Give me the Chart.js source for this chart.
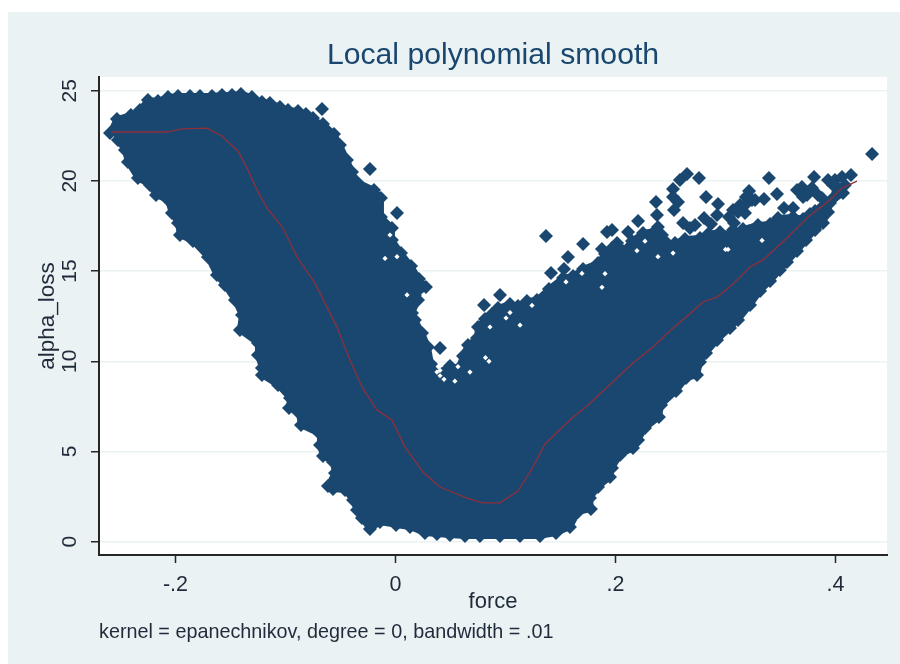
<!DOCTYPE html>
<html><head><meta charset="utf-8">
<style>html,body{margin:0;padding:0;background:#fff}canvas{display:block;filter:blur(.45px)}</style>
<script src="https://cdn.jsdelivr.net/npm/chart.js@4/dist/chart.umd.min.js"></script>
</head><body><canvas id="c" width="900" height="664"></canvas>
<script>
const xTickValues=[-0.2,0,0.2,0.4];
const yTickValues=[0,5,10,15,20,25];
const titleText="Local polynomial smooth";
const noteText="kernel = epanechnikov, degree = 0, bandwidth = .01";
const smoothForce=[-0.2586,-0.2077,-0.1941,-0.1714,-0.1577,-0.1523,-0.1432,-0.1341,-0.1259,-0.1168,-0.1023,-0.0895,-0.0732,-0.0532,-0.0414,-0.0305,-0.0168,-0.0032,0.0086,0.025,0.0405,0.0495,0.065,0.0795,0.095,0.1114,0.125,0.1359,0.1605,0.1741,0.1877,0.2159,0.2341,0.2514,0.2695,0.2795,0.2923,0.3059,0.3223,0.3341,0.3568,0.375,0.395,0.4059,0.4195];
const smoothLoss=[22.71,22.71,22.88,22.93,22.49,22.16,21.66,20.6,19.5,18.5,17.39,15.78,14.34,11.9,10.07,8.58,7.3,6.75,5.25,3.86,3.03,2.81,2.42,2.15,2.15,2.81,4.14,5.42,6.86,7.52,8.3,9.91,10.79,11.79,12.73,13.29,13.56,14.23,15.23,15.62,16.89,18,18.94,19.61,19.99];
const cloudForce=[-0.2595,-0.2532,-0.2405,-0.2323,-0.225,-0.2159,-0.2068,-0.1977,-0.1868,-0.1777,-0.1668,-0.1577,-0.1486,-0.1405,-0.1305,-0.1214,-0.1141,-0.105,-0.0977,-0.0886,-0.0814,-0.0759,-0.0659,-0.0559,-0.0505,-0.0441,-0.0395,-0.035,-0.0195,-0.0132,-0.0132,-0.0032,-0.0032,0.005,0.0141,0.0214,0.0277,0.0177,0.0205,0.015,0.0177,0.0241,0.0295,0.0323,0.0368,0.0495,0.0577,0.0614,0.0659,0.0741,0.075,0.0814,0.0877,0.0932,0.1041,0.1114,0.1195,0.1286,0.1395,0.1523,0.1614,0.1705,0.1841,0.1905,0.1968,0.2014,0.2068,0.215,0.225,0.2359,0.2386,0.2468,0.2541,0.2632,0.2768,0.2841,0.295,0.3068,0.3159,0.3295,0.3405,0.3477,0.3614,0.3705,0.3768,0.3814,0.3886,0.3977,0.4023,0.4068,0.395,0.3932,0.3886,0.3814,0.3732,0.365,0.3559,0.3495,0.3405,0.3314,0.3223,0.3114,0.3041,0.2923,0.2823,0.2768,0.2741,0.2641,0.255,0.2414,0.2395,0.2268,0.2205,0.2159,0.2041,0.1968,0.195,0.1841,0.1768,0.1777,0.1659,0.1586,0.1459,0.1314,0.1132,0.095,0.0768,0.0632,0.0495,0.0377,0.0268,0.0132,0.0005,-0.0141,-0.0232,-0.0305,-0.035,-0.0386,-0.0459,-0.0568,-0.0614,-0.055,-0.0568,-0.0659,-0.0686,-0.0686,-0.0859,-0.0877,-0.0968,-0.0959,-0.1068,-0.1214,-0.1214,-0.125,-0.125,-0.1414,-0.1395,-0.1459,-0.155,-0.1623,-0.1705,-0.1841,-0.1959,-0.1977,-0.2032,-0.2068,-0.2177,-0.2232,-0.2341,-0.2432,-0.2459,-0.2523];
const cloudLoss=[22.66,23.43,23.65,23.93,24.48,24.43,24.65,24.71,24.71,24.71,24.71,24.76,24.76,24.82,24.65,24.37,24.32,24.1,23.93,23.87,23.71,23.38,23.15,22.6,21.99,21.16,20.49,19.94,19.5,19.05,18,17.39,16.72,16,15.28,14.56,14.12,13.68,13.4,12.68,12.29,11.57,10.79,9.85,9.3,9.74,9.63,10.29,10.9,11.29,11.9,12.34,12.62,12.95,13.18,13.07,13.34,13.4,14.01,14.62,14.73,15.12,15.45,15.95,16.28,16.56,16.11,16.67,17.11,17.22,16.83,16.56,16.56,16.78,16.83,17.06,17.17,16.95,17.33,17.56,17.61,17.94,18,17.89,18.17,18.33,18.61,19.05,19.38,19.33,18.77,18.28,17.67,17.28,16.72,16.11,15.5,15.06,14.45,13.9,13.12,12.29,11.85,11.18,10.46,9.96,9.24,9.07,8.35,7.58,6.91,6.3,5.64,5.19,4.81,4.09,3.59,3.03,2.42,1.81,1.65,0.81,0.48,0.32,0.32,0.32,0.32,0.32,0.37,0.43,0.48,0.81,0.93,1.09,0.7,1.31,1.76,2.31,2.87,2.92,3.09,3.81,4.42,4.75,5.36,5.97,6.47,7.13,7.41,7.97,8.69,9.24,9.63,10.35,11.01,11.73,12.57,13.4,14.23,14.78,15.78,16.67,17,17.67,18.22,18.94,19.22,19.77,20.16,21.05,21.71,22.27];
const strayForce=[-0.0668,-0.075,-0.0232,0.0014,0.0405,0.0805,0.095,0.1368,0.1414,0.1532,0.1568,0.1705,0.1877,0.1923,0.1968,0.2114,0.2205,0.2368,0.2377,0.2386,0.2423,0.2523,0.2523,0.2568,0.2532,0.2586,0.265,0.2759,0.2823,0.2805,0.2614,0.2723,0.2932,0.2923,0.3395,0.3468,0.3214,0.3077,0.3068,0.3132,0.3205,0.3268,0.335,0.3532,0.3614,0.3695,0.3805,0.3741,0.3841,0.3877,0.3995,0.4059,0.4141,0.3977,0.4332,0.3177,0.3114,0.3177,0.3241,0.3186,0.3032,0.365,0.3705,0.3786,0.4023,0.4086,0.3932,0.2677,0.2868,0.3068];
const strayLoss=[23.99,23.49,20.66,18.22,10.74,13.12,13.68,16.95,14.89,15.12,15.78,16.5,16.22,17.17,17.28,17.17,17.78,18.83,18.11,17.44,17,19.55,19.11,18.83,18.39,20.05,20.38,20.16,19.11,17.94,17.67,17.56,18.72,18.11,20.16,19.27,19.44,17.67,18.39,18.66,19.05,18.94,19,18.5,18.5,19.66,20.22,19.22,19.22,19.05,20.05,20.22,20.33,19.77,21.49,18.22,18.28,18.66,18.94,19.11,18,19.5,19.11,19.61,19.61,19.77,20.05,17.39,17.61,17.28];
const gapForce=[0.0105,0.0405,0.0405,0.0441,0.0818,0.085,0.0859,0.1041,0.1005,0.1132,0.1241,0.0568,0.0677,0.054,0.2268,0.2195,0.2523,0.2386,0.1905,0.1695,0.1877,0.155,0.3,0.3023,0.3332,-0.0095,0.0014,-0.005,0.0377];
const gapLoss=[13.68,9.5,9.2,9.0,10.2,10.0,11.9,12.7,12.4,12.0,13.1,9.7,9.4,8.9,16.66,16.13,16,15.8,14.86,14.87,14.1,14.4,16.2,16.2,16.7,15.7,15.8,17.0,9.4];
const toXY=(xs,ys)=>xs.map((x,i)=>({x,y:ys[i]}));
const navy="#1a476f",ink="#1f2b3a",axisInk="#262626",panel="#eaf2f3";
const backdrop={id:"backdrop",beforeDraw(c){const g=c.ctx,a=c.chartArea;g.save();g.fillStyle="#fff";g.fillRect(0,0,c.width,c.height);g.fillStyle=panel;g.fillRect(8,12,892,652);g.fillStyle="#fff";g.fillRect(a.left,a.top,a.right-a.left,a.bottom-a.top);g.restore();}};
const fontFam='"Liberation Sans",Arial,sans-serif';
new Chart(document.getElementById("c"),{type:"scatter",plugins:[backdrop],
data:{datasets:[
 {label:"smooth",data:toXY(smoothForce,smoothLoss),showLine:true,borderColor:"#8f2f3c",borderWidth:1.3,pointRadius:0,tension:0,fill:false},
 {label:"gaps",data:toXY(gapForce,gapLoss),showLine:false,pointStyle:"rectRot",pointRadius:2.6,pointBorderWidth:0,pointBackgroundColor:"#fff"},
 {label:"stray",data:toXY(strayForce,strayLoss),showLine:false,pointStyle:"rectRot",pointRadius:7,pointBorderWidth:0,pointBackgroundColor:navy},
 {label:"cloud",data:toXY(cloudForce,cloudLoss),showLine:true,fill:"shape",backgroundColor:navy,borderColor:navy,borderWidth:6,borderJoinStyle:"round",tension:0,pointStyle:"rectRot",pointRadius:7,pointBorderWidth:0,pointBackgroundColor:navy}
]},
options:{responsive:false,animation:false,devicePixelRatio:1,
 layout:{padding:{left:0,right:13,top:0,bottom:0}},
 plugins:{legend:{display:false},tooltip:{enabled:false},
  title:{display:true,text:titleText,color:navy,fullSize:false,font:{family:fontFam,size:30.2,weight:"normal",lineHeight:1.2},padding:{top:37.2,bottom:3.56}},
  subtitle:{display:true,text:noteText,position:"bottom",align:"start",fullSize:false,color:ink,font:{family:fontFam,size:19.8,weight:"normal",lineHeight:1.2},padding:{top:0,bottom:19.5}}},
 scales:{
  x:{type:"linear",min:-0.2695,max:0.4468,afterFit(s){s.height=65.7;},afterBuildTicks(s){s.ticks=xTickValues.map(value=>({value}));},
   grid:{drawOnChartArea:false,tickLength:8,tickColor:axisInk,tickWidth:1.5},border:{color:axisInk,width:2},
   ticks:{color:ink,padding:9,maxRotation:0,font:{family:fontFam,size:21.5},callback:v=>v===0?"0":String(v).replace("0.",".")},
   title:{display:true,text:"force",color:ink,font:{family:fontFam,size:22},padding:{top:0,bottom:5.5}}},
  y:{type:"linear",min:-0.74,max:25.76,afterFit(s){s.width=99;},afterBuildTicks(s){s.ticks=yTickValues.map(value=>({value}));},
   grid:{color:panel,lineWidth:1.5,tickLength:8,tickColor:axisInk,tickWidth:1.5},border:{color:axisInk,width:2},
   ticks:{color:ink,padding:9,minRotation:90,maxRotation:90,crossAlign:"center",font:{family:fontFam,size:21}},
   title:{display:true,text:"alpha_loss",color:ink,font:{family:fontFam,size:22.5},padding:{top:34,bottom:0}}}
 }}});
</script></body></html>
